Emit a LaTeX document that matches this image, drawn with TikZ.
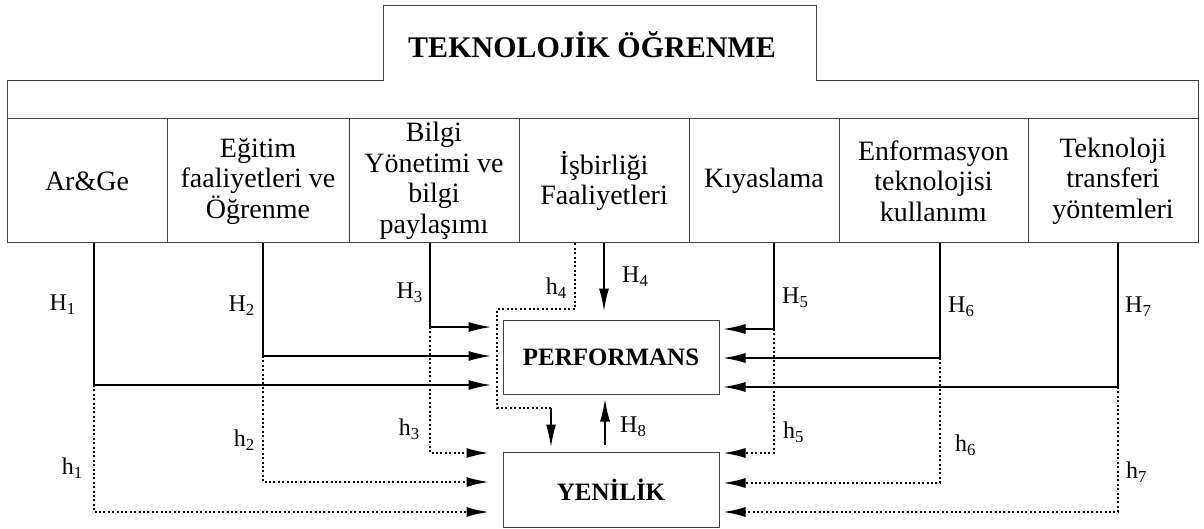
\documentclass[tikz,border=0pt]{standalone}
\usepackage{fontspec}
\setmainfont{Liberation Serif}
\usetikzlibrary{arrows.meta}
\begin{document}
\begin{tikzpicture}[x=1pt,y=-1pt,
  frame/.style={draw=black!75, line width=1pt},
  colbox/.style={frame, minimum height=124pt, inner sep=0pt, align=center,
    font=\fontsize{28}{30.5}\selectfont},
  mainbox/.style={frame, minimum width=216pt, inner sep=0pt,
    font=\fontsize{25}{30}\selectfont\bfseries},
  conn/.style={line width=2pt, -{Latex[length=23pt,width=10pt]}},
  dotline/.style={line width=2.4pt, dash pattern=on 2pt off 2.4pt},
  dotarrow/.style={dotline, -{Latex[length=23pt,width=10pt]}},
  lab/.style={font=\fontsize{24}{24}\selectfont, inner sep=0pt}]
\useasboundingbox (0,0) rectangle (1204,529);

% outer frame with the title tab
\draw[frame] (7,81) -- (383,81) -- (383,6) -- (816,6) -- (816,81)
  -- (1198,81) -- (1198,243) -- (7,243) -- cycle;
\draw[frame] (7,119) -- (1198,119);
\node[font=\fontsize{30}{36}\selectfont\bfseries] (title) at (592,45) {TEKNOLOJİK ÖĞRENME};

% row of learning activities
\node[colbox, minimum width=160pt] (c1) at (87,181) {Ar\&Ge};
\node[colbox, minimum width=182pt] (c2) at (258,181) {Eğitim\\faaliyetleri ve\\Öğrenme};
\node[colbox, minimum width=170pt] (c3) at (434,181) {Bilgi\\Yönetimi ve\\bilgi\\paylaşımı};
\node[colbox, minimum width=170pt] (c4) at (604,181) {İşbirliği\\Faaliyetleri};
\node[colbox, minimum width=150pt] (c5) at (764,181) {Kıyaslama};
\node[colbox, minimum width=189pt] (c6) at (933.5,181) {Enformasyon\\teknolojisi\\kullanımı};
\node[colbox, minimum width=170pt] (c7) at (1113,181) {Teknoloji\\transferi\\yöntemleri};

% outcome boxes
\node[mainbox, minimum height=74pt] (perf) at (611,357) {PERFORMANS};
\node[mainbox, minimum height=75pt] (yen) at (611,489.5) {YENİLİK};

% bend points of the connectors
\coordinate (t1) at (94,385);   \coordinate (u1) at (94,512);
\coordinate (t2) at (263,356);  \coordinate (u2) at (263,482);
\coordinate (t3) at (430,327);  \coordinate (u3) at (430,453);
\coordinate (t5) at (774,329);  \coordinate (u5) at (774,453);
\coordinate (t6) at (940,358);  \coordinate (u6) at (940,483);
\coordinate (t7) at (1118,387); \coordinate (u7) at (1118,512);
\coordinate (d1) at (575,309);  \coordinate (d2) at (497,309);
\coordinate (d3) at (497,408);  \coordinate (d4) at (551,408);
\coordinate (k8) at (605,445);

% left-hand paths
\draw[conn, shorten >=11pt] (c1.south -| t1) -- (t1) -- (perf.west |- t1);
\draw[dotarrow, shorten >=13pt] (t1) -- (u1) -- (yen.west |- u1);
\draw[conn, shorten >=11pt] (c2.south -| t2) -- (t2) -- (perf.west |- t2);
\draw[dotarrow, shorten >=13pt] (t2) -- (u2) -- (yen.west |- u2);
\draw[conn, shorten >=11pt] (c3.south -| t3) -- (t3) -- (perf.west |- t3);
\draw[dotarrow, shorten >=13pt] (t3) -- (u3) -- (yen.west |- u3);

% right-hand paths
\draw[conn, shorten >=3pt] (c5.south -| t5) -- (t5) -- (perf.east |- t5);
\draw[dotarrow, shorten >=3pt] (t5) -- (u5) -- (yen.east |- u5);
\draw[conn, shorten >=3pt] (c6.south -| t6) -- (t6) -- (perf.east |- t6);
\draw[dotarrow, shorten >=3pt] (t6) -- (u6) -- (yen.east |- u6);
\draw[conn, shorten >=3pt] (c7.south -| t7) -- (t7) -- (perf.east |- t7);
\draw[dotarrow, shorten >=3pt] (t7) -- (u7) -- (yen.east |- u7);

% cooperation paths
\draw[conn, shorten >=8pt] (c4.south) -- (perf.north -| c4.south);
\draw[dotline] (c4.south -| d1) -- (d1) -- (d2) -- (d3) -- (d4);
\draw[conn, shorten >=4pt] (d4) -- (yen.north -| d4);

% innovation to performance
\draw[conn, shorten >=4pt] (k8) -- (perf.south -| k8);

% hypothesis labels
\node[lab, anchor=east] (lH1) at (76,305) {H\textsubscript{1}};
\node[lab, anchor=east] (lh1) at (83,468) {h\textsubscript{1}};
\node[lab, anchor=east] (lH2) at (255,306) {H\textsubscript{2}};
\node[lab, anchor=east] (lh2) at (255,440) {h\textsubscript{2}};
\node[lab, anchor=east] (lH3) at (423,293) {H\textsubscript{3}};
\node[lab, anchor=east] (lh3) at (420,429) {h\textsubscript{3}};
\node[lab, anchor=east] (lh4) at (567,288) {h\textsubscript{4}};
\node[lab, anchor=west] (lH4) at (622,277) {H\textsubscript{4}};
\node[lab, anchor=west] (lH5) at (782,298) {H\textsubscript{5}};
\node[lab, anchor=west] (lh5) at (783,432) {h\textsubscript{5}};
\node[lab, anchor=west] (lH6) at (948,307) {H\textsubscript{6}};
\node[lab, anchor=west] (lh6) at (955,445) {h\textsubscript{6}};
\node[lab, anchor=west] (lH7) at (1125,307) {H\textsubscript{7}};
\node[lab, anchor=west] (lh7) at (1126,472) {h\textsubscript{7}};
\node[lab, anchor=west] (lH8) at (620,427) {H\textsubscript{8}};
\end{tikzpicture}
\end{document}
